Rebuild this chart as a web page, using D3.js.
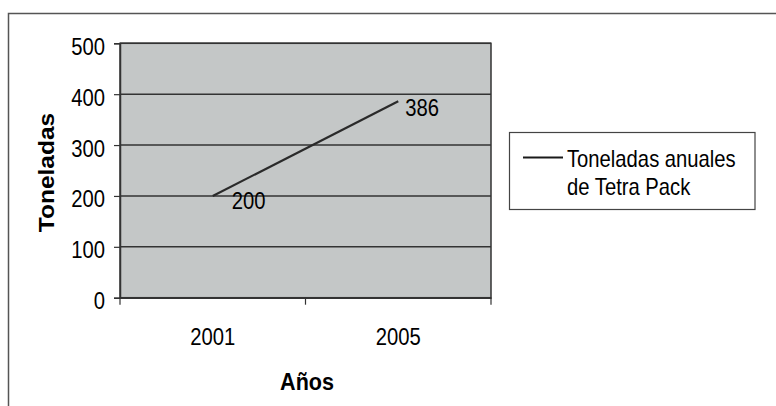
<!DOCTYPE html>
<html>
<head>
<meta charset="utf-8">
<script src="https://cdn.jsdelivr.net/npm/d3@7/dist/d3.min.js"></script>
<style>
  html, body { margin: 0; padding: 0; background: #fff; }
  svg { display: block; }
  text { font-family: "Liberation Sans", Arial, sans-serif; fill: #000; }
</style>
</head>
<body>
<script>
// Annual Tetra Pack tonnage
const years = ["2001", "2005"];
const tonnes = [200, 386];
const yTicks = [0, 100, 200, 300, 400, 500];
const seriesName = ["Toneladas anuales", "de Tetra Pack"];
const xTitle = "Años";
const yTitle = "Toneladas";

const W = 776, H = 406;
const SQ = 0.88;   // horizontal text squash
const FS = 23;     // body text size
const plot = { left: 120, right: 491, top: 43.3, bottom: 297.7 };

const svg = d3.select("body").append("svg").attr("width", W).attr("height", H);

// chart frame
svg.append("rect")
  .attr("x", 8.5).attr("y", 13.5).attr("width", 800).attr("height", 420)
  .attr("fill", "#fff").attr("stroke", "#555").attr("stroke-width", 1.5);

const x = d3.scaleBand().domain(years).range([plot.left, plot.right]);
const y = d3.scaleLinear().domain([0, 500]).range([plot.bottom, plot.top]);

// plot area
svg.append("rect")
  .attr("x", plot.left).attr("y", plot.top)
  .attr("width", plot.right - plot.left).attr("height", plot.bottom - plot.top)
  .attr("fill", "#c4c7c7").attr("stroke", "#333").attr("stroke-width", 1.5);

// horizontal gridlines
svg.append("g").selectAll("line").data(yTicks.filter(v => v > 0)).join("line")
  .attr("x1", plot.left).attr("x2", plot.right)
  .attr("y1", d => y(d)).attr("y2", d => y(d))
  .attr("stroke", "#333").attr("stroke-width", 1.5);

// y axis
const yAxis = svg.append("g").attr("transform", `translate(${plot.left},0)`)
  .call(d3.axisLeft(y).tickValues(yTicks).tickSize(6).tickPadding(0));
yAxis.select(".domain").attr("stroke", "#333").attr("stroke-width", 1.5);
yAxis.selectAll(".tick line").attr("stroke", "#333").attr("stroke-width", 1.2);
yAxis.selectAll(".tick text")
  .attr("font-size", FS).attr("font-family", "Liberation Sans, Arial, sans-serif")
  .attr("fill", "#000")
  .attr("x", -15 / SQ).attr("dy", "0.48em")
  .attr("transform", `scale(${SQ},1)`);

// x axis: labels centred in bands, ticks on band edges
const xAxis = svg.append("g").attr("transform", `translate(0,${plot.bottom})`)
  .call(d3.axisBottom(x).tickSize(0).tickPadding(0));
xAxis.select(".domain").attr("stroke", "#333").attr("stroke-width", 1.5);
xAxis.selectAll(".tick text")
  .attr("font-size", FS).attr("font-family", "Liberation Sans, Arial, sans-serif")
  .attr("fill", "#000")
  .attr("y", 47.5).attr("dy", 0).attr("x", 0)
  .attr("transform", `scale(${SQ},1)`);
const edges = years.map(d => x(d)).concat([x(years[years.length - 1]) + x.bandwidth()]);
svg.append("g").selectAll("line").data(edges).join("line")
  .attr("x1", d => d).attr("x2", d => d)
  .attr("y1", plot.bottom).attr("y2", plot.bottom + 7)
  .attr("stroke", "#333").attr("stroke-width", 1.2);

// series line
const line = d3.line()
  .x((d, i) => x(years[i]) + x.bandwidth() / 2)
  .y(d => y(d));
svg.append("path").datum(tonnes)
  .attr("d", line).attr("fill", "none")
  .attr("stroke", "#2a2a2a").attr("stroke-width", 2.2);

// value labels
const labelDx = [19, 7], labelDy = [13, 15];
svg.append("g").selectAll("text").data(tonnes).join("text")
  .attr("transform", (d, i) =>
    `translate(${x(years[i]) + x.bandwidth() / 2 + labelDx[i]},${y(d) + labelDy[i]}) scale(${SQ},1)`)
  .attr("font-size", FS)
  .text(d => d);

// axis titles
svg.append("text")
  .attr("transform", `translate(307,389.5) scale(${SQ},1)`)
  .attr("text-anchor", "middle").attr("font-size", 24.5).attr("font-weight", "bold")
  .text(xTitle);
svg.append("text")
  .attr("transform", `translate(54,172.5) scale(${SQ},1) rotate(-90)`)
  .attr("text-anchor", "middle").attr("font-size", 24.5).attr("font-weight", "bold")
  .text(yTitle);

// legend
const lg = svg.append("g");
lg.append("rect")
  .attr("x", 509.5).attr("y", 132.5).attr("width", 245.5).attr("height", 77)
  .attr("fill", "#fff").attr("stroke", "#444").attr("stroke-width", 1.2);
lg.append("line")
  .attr("x1", 523).attr("x2", 563).attr("y1", 157.5).attr("y2", 157.5)
  .attr("stroke", "#1a1a1a").attr("stroke-width", 2.2);
lg.selectAll("text.item").data(seriesName).join("text")
  .attr("class", "item")
  .attr("transform", (d, i) => `translate(567,${167 + i * 27.5}) scale(${SQ},1)`)
  .attr("font-size", FS)
  .text(d => d);
</script>
</body>
</html>
